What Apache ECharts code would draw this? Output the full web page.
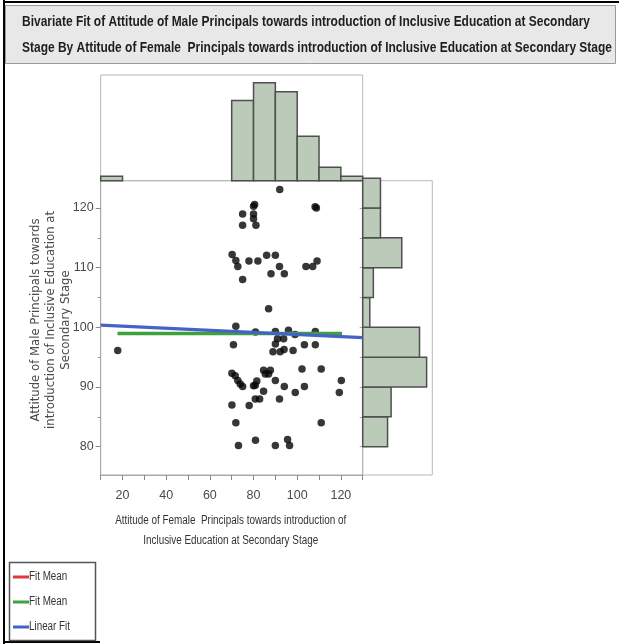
<!DOCTYPE html>
<html><head><meta charset="utf-8">
<script src="https://cdn.jsdelivr.net/npm/echarts@6/dist/echarts.min.js"></script>
<style>html,body{margin:0;padding:0;background:#fff}#c{width:619px;height:644px}</style>
</head><body><div id="c"></div><script>
// ---- data ----
const femaleX = [17.8,71.9,70.8,80.9,90,96,108.3,91,93.8,90,88.9,92.2,94,98.1,103.3,108.3,99,
  70.1,71.6,72.8,73.9,80,81.5,84.6,85.4,87.7,86.9,90,94.1,102.2,103.3,111,120.2,75,80.8,
  84.6,82.8,80.8,78,70.1,91.9,99.1,119.3,
  71.9,111,73.1,80.9,90,95.6,96.5,
  86.9,75,88,94.1,
  70.2,71.9,72.8,77.9,82,86,90,91.9,104,107.1,109.1,
  75,80,75,81.1,80,
  92,108.2,108.8,80,80.5];
const maleY = [96.1,100.2,97.1,99.2,99.3,99.5,99.3,98.1,98.1,97.2,95.9,95.9,96.3,96.1,97.1,97.1,98.8,
  92.3,91.9,91.1,90.5,90.2,91,92.8,92.2,92.8,92.2,91.1,90.1,93,90.1,93,91.1,90.1,90.3,
  89.3,88,88,86.9,87,88,89.1,89.1,
  84,84,80.2,81.1,80.2,81.2,80.2,
  103.1,108,109,109,
  112.2,111.2,110.2,111.1,111.1,112.1,112.1,110.2,110.2,110.2,111.1,
  119,119,117.1,117.1,118.2,
  123.1,120.2,120,120.3,120.6];
const xTickValues = [20,40,60,80,100,120];
const yTickValues = [80,90,100,110,120];
const yMinorTickValues = [85,95,105,115];
const topBinEdges = [10,20,30,40,50,60,70,80,90,100,110,120,130];
const topHistCounts = [1,0,0,0,0,0,18,22,20,10,3,1];
const rightBinEdges = [80,85,90,95,100,105,110,115,120,125];
const rightHistCounts = [7,8,18,16,2,3,11,5,5];
const linearFitX = [10,130];
const linearFitY = [100.38,98.28];
const meanFitX = [17.8,120.5];
const meanFitY = [98.95,98.95];
const titleLines = ['Bivariate Fit of Attitude of Male Principals towards introduction of Inclusive Education at Secondary',
  'Stage By Attitude of Female  Principals towards introduction of Inclusive Education at Secondary Stage'];
const xTitle = ['Attitude of Female  Principals towards introduction of','Inclusive Education at Secondary Stage'];
const yTitle = ['Attitude of Male Principals towards','introduction of Inclusive Education at','Secondary Stage'];
const legendItems = [['Fit Mean','#e0383e'],['Fit Mean','#3ca23c'],['Linear Fit','#4562c8']];

// ---- layout ----
const SANS = "'Liberation Sans',Arial,sans-serif";
const DEJA = "'DejaVu Sans',Verdana,sans-serif";
const ctx = document.createElement('canvas').getContext('2d');
function textW(text, font){ ctx.font = font; return ctx.measureText(text).width; }

const TITLE_FONT = 'bold 15px ' + SANS;
const titleScale = 568 / textW(titleLines[0], TITLE_FONT);
const XT_FONT = 'normal 12.5px ' + SANS;
const xTitleScale = 231 / textW(xTitle[0], XT_FONT);
const yTitleSize = 100 * 218 / textW(yTitle[1], 'normal 100px ' + DEJA);
const LEG_FONT = 'normal 12px ' + SANS;
const legScale = 0.82;

const SX = 100.7, SW = 262, ST = 180.7, SH = 294.3;
const Y_MIN = 75.26, Y_MAX = 124.57;
const HIST_FILL = '#bccaba', HIST_STROKE = '#4f4f4f';
const FRAME = '#a9a9a9';
const TICK_LABEL = {color:'#4a4a4a', fontFamily:'Liberation Sans', fontSize:12.5};

const scatterData = femaleX.map((x,i)=>[x, maleY[i]]);
const topData = topHistCounts.map((c,i)=>[topBinEdges[i], topBinEdges[i+1], c]);
const rightData = rightHistCounts.map((c,i)=>[rightBinEdges[i], rightBinEdges[i+1], c]);

const chart = echarts.init(document.getElementById('c'), null, {renderer:'canvas'});
const graphic = [
  {type:'rect', z:0, shape:{x:5.5,y:5.5,width:610,height:58}, style:{fill:'#e8e8e8', stroke:'#9a9a9a', lineWidth:1}},
  {type:'line', z:1, shape:{x1:4,y1:0,x2:4,y2:644}, style:{stroke:'#000', lineWidth:2}},
  {type:'line', z:1, shape:{x1:4,y1:2,x2:619,y2:2}, style:{stroke:'#000', lineWidth:2}},
  {type:'line', z:1, shape:{x1:4,y1:642,x2:100,y2:642}, style:{stroke:'#000', lineWidth:2}},
  {type:'rect', z:1, shape:{x:9.5,y:562.5,width:86,height:78}, style:{fill:'#fff', stroke:'#555', lineWidth:1.5}},
  {type:'text', z:1, x:51, y:320, rotation:Math.PI/2,
    style:{text:yTitle.join('\n'), font:'normal '+yTitleSize.toFixed(2)+'px '+DEJA, fill:'#4a4a4a',
      align:'center', verticalAlign:'middle', lineHeight:15}}
];
titleLines.forEach((t,i)=>{
  graphic.push({type:'text', z:3, x:22, y:22 + i*26, scaleX:titleScale, scaleY:1,
    style:{text:t, font:TITLE_FONT, fill:'#1e1e1e', verticalAlign:'middle'}});
});
xTitle.forEach((t,i)=>{
  graphic.push({type:'text', z:3, x:SX+SW/2-1, y:521 + i*20, scaleX:xTitleScale, scaleY:1,
    style:{text:t, font:XT_FONT, fill:'#333', align:'center', verticalAlign:'middle'}});
});
legendItems.forEach((it,i)=>{
  const y = 577 + i*25;
  graphic.push({type:'line', z:2, shape:{x1:13,y1:y,x2:29,y2:y}, style:{stroke:it[1], lineWidth:3}});
  graphic.push({type:'text', z:2, x:29, y:y, scaleX:legScale, scaleY:1,
    style:{text:it[0], font:LEG_FONT, fill:'#333', verticalAlign:'middle'}});
});

const option = {
  animation:false,
  backgroundColor:'#fff',
  graphic:graphic,
  grid:[
    {left:SX, top:ST, width:SW, height:SH, show:true, borderColor:FRAME, borderWidth:1},
    {left:SX, top:75, width:SW, height:ST-75, show:true, borderColor:'#b8b8b8', borderWidth:1},
    {left:SX+SW, top:ST, width:69.6, height:SH, show:true, borderColor:'#b8b8b8', borderWidth:1}
  ],
  xAxis:[
    {gridIndex:0, type:'value', min:10, max:130, interval:10, position:'bottom',
      axisLine:{show:true, lineStyle:{color:FRAME}},
      axisTick:{show:true, length:5, lineStyle:{color:'#888'}},
      axisLabel:Object.assign({margin:14, formatter:v=> xTickValues.indexOf(v)>=0 ? String(v) : ''}, TICK_LABEL),
      splitLine:{show:false}},
    {gridIndex:1, type:'value', min:10, max:130, show:false},
    {gridIndex:2, type:'value', min:0, max:19.6, show:false}
  ],
  yAxis:[
    {gridIndex:0, type:'value', min:Y_MIN, max:Y_MAX, position:'left',
      axisLine:{show:true, lineStyle:{color:FRAME}},
      axisTick:{show:true, length:5, customValues:yTickValues, lineStyle:{color:'#888'}},
      axisLabel:Object.assign({customValues:yTickValues, margin:7}, TICK_LABEL),
      splitLine:{show:false}},
    {gridIndex:0, type:'value', min:Y_MIN, max:Y_MAX, position:'left', offset:0,
      axisLine:{show:false},
      axisTick:{show:true, length:3, customValues:yMinorTickValues, lineStyle:{color:'#999'}},
      axisLabel:{show:false}, splitLine:{show:false}},
    {gridIndex:0, type:'value', min:Y_MIN, max:Y_MAX, position:'right',
      axisLine:{show:false},
      axisTick:{show:true, inside:true, length:3, customValues:yTickValues.concat(yMinorTickValues), lineStyle:{color:'#aaa'}},
      axisLabel:{show:false}, splitLine:{show:false}},
    {gridIndex:1, type:'value', min:0, max:23.75, show:false},
    {gridIndex:2, type:'value', min:Y_MIN, max:Y_MAX, show:false}
  ],
  series:[
    {type:'scatter', xAxisIndex:0, yAxisIndex:0, data:scatterData, symbolSize:7.5,
      itemStyle:{color:'#050505'}, z:2, silent:true},
    {type:'line', xAxisIndex:0, yAxisIndex:0, data:meanFitX.map((x,i)=>[x,meanFitY[i]]),
      symbol:'none', lineStyle:{color:legendItems[0][1], width:3}, z:3},
    {type:'line', xAxisIndex:0, yAxisIndex:0, data:meanFitX.map((x,i)=>[x,meanFitY[i]]),
      symbol:'none', lineStyle:{color:legendItems[1][1], width:3.5}, z:4},
    {type:'line', xAxisIndex:0, yAxisIndex:0, data:linearFitX.map((x,i)=>[x,linearFitY[i]]),
      symbol:'none', lineStyle:{color:legendItems[2][1], width:3.2}, z:5},
    {type:'custom', xAxisIndex:1, yAxisIndex:3, data:topData,
      renderItem:(p,api)=>{
        const c = api.value(2); if(!c) return;
        const a = api.coord([api.value(0),0]), b = api.coord([api.value(1),c]);
        return {type:'rect', shape:{x:a[0], y:b[1], width:b[0]-a[0], height:a[1]-b[1]},
          style:{fill:HIST_FILL, stroke:HIST_STROKE, lineWidth:1.5}};
      }},
    {type:'custom', xAxisIndex:2, yAxisIndex:4, data:rightData,
      renderItem:(p,api)=>{
        const c = api.value(2); if(!c) return;
        const a = api.coord([0,api.value(0)]), b = api.coord([c,api.value(1)]);
        return {type:'rect', shape:{x:a[0], y:b[1], width:b[0]-a[0], height:a[1]-b[1]},
          style:{fill:HIST_FILL, stroke:HIST_STROKE, lineWidth:1.5}};
      }}
  ]
};
chart.setOption(option);
</script></body></html>
